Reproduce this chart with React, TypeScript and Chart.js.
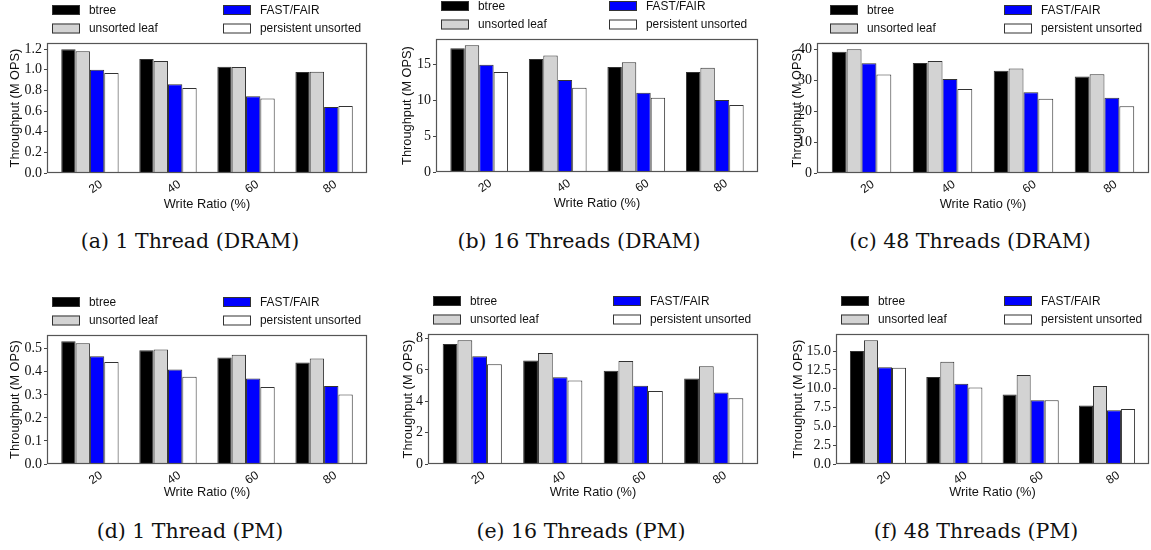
import React, { useEffect, useRef } from "react";
import { Chart, registerables } from "chart.js";

Chart.register(...registerables);

// ---------- data ----------
const categories = ["20", "40", "60", "80"];
const seriesNames = ["btree", "unsorted leaf", "FAST/FAIR", "persistent unsorted"];
const seriesColors = ["#000000", "#d3d3d3", "#0000ff", "#ffffff"];

// (a) 1 Thread (DRAM)
const aBtree = [1.2, 1.105, 1.03, 0.98];
const aUnsorted = [1.18, 1.085, 1.028, 0.982];
const aFastFair = [1.0, 0.86, 0.745, 0.64];
const aPersistent = [0.97, 0.823, 0.723, 0.649];

// (b) 16 Threads (DRAM)
const bBtree = [17.2, 15.7, 14.6, 13.9];
const bUnsorted = [17.6, 16.2, 15.25, 14.5];
const bFastFair = [14.9, 12.8, 11.0, 10.0];
const bPersistent = [13.9, 11.7, 10.3, 9.3];

// (c) 48 Threads (DRAM)
const cBtree = [39.4, 35.7, 33.2, 31.3];
const cUnsorted = [40.2, 36.4, 33.9, 32.1];
const cFastFair = [35.6, 30.5, 26.2, 24.4];
const cPersistent = [32.0, 27.3, 24.1, 21.7];

// (d) 1 Thread (PM)
const dBtree = [0.533, 0.493, 0.462, 0.44];
const dUnsorted = [0.524, 0.497, 0.474, 0.458];
const dFastFair = [0.468, 0.41, 0.371, 0.338];
const dPersistent = [0.442, 0.379, 0.334, 0.302];

// (e) 16 Threads (PM)
const eBtree = [7.66, 6.61, 5.95, 5.45];
const eUnsorted = [7.9, 7.08, 6.57, 6.24];
const eFastFair = [6.87, 5.54, 5.0, 4.56];
const ePersistent = [6.37, 5.32, 4.65, 4.2];

// (f) 48 Threads (PM)
const fBtree = [15.0, 11.55, 9.24, 7.77];
const fUnsorted = [16.45, 13.6, 11.83, 10.37];
const fFastFair = [12.87, 10.65, 8.48, 7.14];
const fPersistent = [12.8, 10.18, 8.48, 7.32];

const captions = [
  "(a) 1 Thread (DRAM)",
  "(b) 16 Threads (DRAM)",
  "(c) 48 Threads (DRAM)",
  "(d) 1 Thread (PM)",
  "(e) 16 Threads (PM)",
  "(f) 48 Threads (PM)",
];
const yStepSizes = [0.2, 5, 10, 0.1, 2, 2.5];
const yDecimals = [1, 0, 0, 1, 0, 1];
const xTitle = "Write Ratio (%)";
const yTitle = "Throughput (M OPS)";

const panelSeries = [
  [aBtree, aUnsorted, aFastFair, aPersistent],
  [bBtree, bUnsorted, bFastFair, bPersistent],
  [cBtree, cUnsorted, cFastFair, cPersistent],
  [dBtree, dUnsorted, dFastFair, dPersistent],
  [eBtree, eUnsorted, eFastFair, ePersistent],
  [fBtree, fUnsorted, fFastFair, fPersistent],
];

// ---------- layout (page pixels) ----------
const frames = [
  { l: 47, t: 43, r: 367, b: 173 },
  { l: 436, t: 39, r: 758, b: 172 },
  { l: 817, t: 43, r: 1149, b: 173 },
  { l: 47, t: 335, r: 367, b: 464 },
  { l: 428, t: 334, r: 758, b: 464 },
  { l: 836, t: 334, r: 1149, b: 464 },
];
const legendCols = [
  [5, 176],
  [5, 173],
  [13, 187],
  [5, 176],
  [5, 185],
  [5, 168],
];
const yTitleDist = [32, 29, 20, 32, 20, 38];
const xTitleDist = [31, 31, 31, 28, 28, 28];
const captionPos = [
  [190, 241],
  [579, 241],
  [970, 241],
  [190, 531],
  [581, 531],
  [976, 531],
];

const YW = 50;
const PT = 40;
const PR = 2;
const XH = 45;
const TEXT = "#111";
const SANS = "'Liberation Sans', Arial, sans-serif";
const SERIF = "'Liberation Serif', 'Times New Roman', serif";
const CAPTION_SERIF = "'DejaVu Serif', serif";

function makePlugin(idx: number) {
  return {
    id: "decor" + idx,
    afterDraw(chart: any) {
      const ctx = chart.ctx;
      const ca = chart.chartArea;
      const xs = chart.scales.x;
      ctx.save();
      // frame
      ctx.strokeStyle = "#555";
      ctx.lineWidth = 1.2;
      ctx.strokeRect(Math.round(ca.left) + 0.5, Math.round(ca.top) + 0.5, Math.round(ca.right - ca.left) - 1, Math.round(ca.bottom - ca.top) - 1);
      // x tick labels
      ctx.fillStyle = TEXT;
      ctx.font = `12px ${SANS}`;
      ctx.textAlign = "center";
      ctx.textBaseline = "middle";
      categories.forEach((c, i) => {
        const px = xs.getPixelForValue(i) + 6;
        ctx.save();
        ctx.translate(px, ca.bottom + 14);
        ctx.rotate((-35 * Math.PI) / 180);
        ctx.fillText(c, 0, 0);
        ctx.restore();
      });
      // legend
      const rows = [ca.top - 33, ca.top - 14.5];
      ctx.font = `11.9px ${SANS}`;
      ctx.textAlign = "left";
      seriesNames.forEach((name, si) => {
        const col = si < 2 ? 0 : 1;
        const row = si % 2;
        const bx = ca.left + legendCols[idx][col];
        const by = rows[row];
        ctx.fillStyle = seriesColors[si];
        ctx.fillRect(bx, by - 5, 28, 10);
        ctx.strokeStyle = "#333";
        ctx.lineWidth = 1;
        ctx.strokeRect(bx + 0.5, by - 4.5, 27, 9);
        ctx.fillStyle = TEXT;
        ctx.fillText(name, bx + 37, by + 0.5);
      });
      ctx.restore();
    },
  };
}

function Panel({ idx }: { idx: number }) {
  const ref = useRef<HTMLCanvasElement>(null);
  const f = frames[idx];
  const w = f.r - f.l + YW + PR;
  const h = f.b - f.t + PT + XH;
  useEffect(() => {
    const series = panelSeries[idx];
    const all = ([] as number[]).concat(...series);
    const yMax = Math.max(...all) * 1.05;
    const titleFont = { family: SANS, size: 12.8 };
    const titleHalf = (12.8 * 1.2) / 2;
    const chart = new Chart(ref.current as HTMLCanvasElement, {
      type: "bar",
      data: {
        datasets: series.map((vals, si) => ({
          label: seriesNames[si],
          data: vals.map((v, i) => ({ x: i, y: v })),
          backgroundColor: seriesColors[si],
          borderColor: "#333",
          borderWidth: 1,
          categoryPercentage: 0.735,
          barPercentage: 1,
        })),
      } as any,
      options: {
        animation: false,
        responsive: false,
        maintainAspectRatio: false,
        devicePixelRatio: 1,
        layout: { padding: { left: 0, top: PT, right: PR, bottom: 0 } },
        plugins: { legend: { display: false }, tooltip: { enabled: false } },
        scales: {
          x: {
            type: "linear",
            offset: false,
            min: -0.55,
            max: 3.55,
            grid: { display: false },
            border: { display: false },
            ticks: { display: false },
            afterBuildTicks: (axis: any) => {
              axis.ticks = categories.map((_, i) => ({ value: i }));
            },
            afterFit: (axis: any) => {
              axis.height = XH;
            },
            title: {
              display: true,
              text: xTitle,
              font: titleFont,
              color: TEXT,
              padding: { top: 0, bottom: XH - titleHalf - xTitleDist[idx] },
            },
          },
          y: {
            min: 0,
            max: yMax,
            grid: { drawOnChartArea: false, drawTicks: true, tickLength: 3, color: "#444", lineWidth: 1 },
            border: { display: false },
            ticks: {
              stepSize: yStepSizes[idx],
              includeBounds: false,
              padding: 2,
              color: TEXT,
              font: { family: SERIF, size: 14 },
              callback: (v: any) => Number(v).toFixed(yDecimals[idx]),
            },
            afterFit: (axis: any) => {
              axis.width = YW;
            },
            title: {
              display: true,
              text: yTitle,
              font: titleFont,
              color: TEXT,
              padding: { top: YW - yTitleDist[idx] - titleHalf, bottom: 0 },
            },
          },
        },
      } as any,
      plugins: [makePlugin(idx)],
    });
    return () => chart.destroy();
  }, [idx]);
  return (
    <canvas
      ref={ref}
      width={w}
      height={h}
      style={{ position: "absolute", left: f.l - YW, top: f.t - PT, width: w, height: h }}
    />
  );
}

export default function App() {
  return (
    <div
      style={{
        position: "fixed",
        left: 0,
        top: 0,
        width: 1151,
        height: 550,
        overflow: "hidden",
        background: "#fff",
      }}
    >
      {frames.map((_, i) => (
        <Panel key={i} idx={i} />
      ))}
      {captions.map((c, i) => (
        <div
          key={"cap" + i}
          style={{
            position: "absolute",
            left: captionPos[i][0],
            top: captionPos[i][1],
            transform: "translate(-50%, -50%)",
            whiteSpace: "nowrap",
            fontFamily: CAPTION_SERIF,
            fontSize: 20.5,
            color: TEXT,
            lineHeight: 1,
          }}
        >
          {c}
        </div>
      ))}
    </div>
  );
}
